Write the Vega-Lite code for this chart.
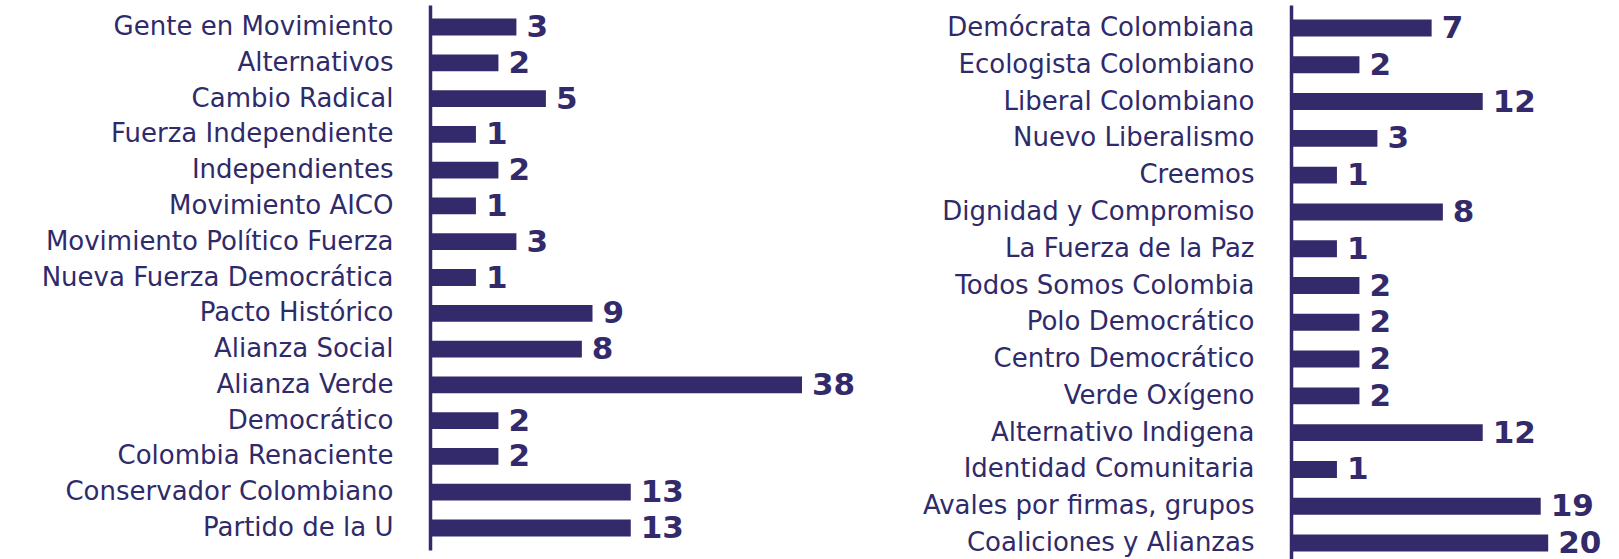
{
  "$schema": "https://vega.github.io/schema/vega-lite/v6.json",
  "background": "white",
  "padding": 5,
  "spacing": 21,
  "config": {
    "view": {"stroke": null},
    "axisY": {
      "domain": true,
      "domainColor": "#332a6b",
      "domainWidth": 3.5,
      "ticks": false,
      "tickSize": 0,
      "labelFont": "DejaVu Sans",
      "labelFontSize": 26,
      "labelColor": "#2f2a6a",
      "labelPadding": 37,
      "labelLimit": 600,
      "title": null,
      "grid": false
    }
  },
  "datasets": {
    "left": [
      {"partido": "Gente en Movimiento", "avales": 3},
      {"partido": "Alternativos", "avales": 2},
      {"partido": "Cambio Radical", "avales": 5},
      {"partido": "Fuerza Independiente", "avales": 1},
      {"partido": "Independientes", "avales": 2},
      {"partido": "Movimiento AICO", "avales": 1},
      {"partido": "Movimiento Político Fuerza", "avales": 3},
      {"partido": "Nueva Fuerza Democrática", "avales": 1},
      {"partido": "Pacto Histórico", "avales": 9},
      {"partido": "Alianza Social", "avales": 8},
      {"partido": "Alianza Verde", "avales": 38},
      {"partido": "Democrático", "avales": 2},
      {"partido": "Colombia Renaciente", "avales": 2},
      {"partido": "Conservador Colombiano", "avales": 13},
      {"partido": "Partido de la U", "avales": 13}
    ],
    "right": [
      {"partido": "Demócrata Colombiana", "avales": 7},
      {"partido": "Ecologista Colombiano", "avales": 2},
      {"partido": "Liberal Colombiano", "avales": 12},
      {"partido": "Nuevo Liberalismo", "avales": 3},
      {"partido": "Creemos", "avales": 1},
      {"partido": "Dignidad y Compromiso", "avales": 8},
      {"partido": "La Fuerza de la Paz", "avales": 1},
      {"partido": "Todos Somos Colombia", "avales": 2},
      {"partido": "Polo Democrático", "avales": 2},
      {"partido": "Centro Democrático", "avales": 2},
      {"partido": "Verde Oxígeno", "avales": 2},
      {"partido": "Alternativo Indigena", "avales": 12},
      {"partido": "Identidad Comunitaria", "avales": 1},
      {"partido": "Avales por firmas, grupos", "avales": 19},
      {"partido": "Coaliciones y Alianzas", "avales": 20}
    ]
  },
  "hconcat": [
    {
      "width": 440,
      "height": 545,
      "data": {"name": "left"},
      "encoding": {
        "y": {
          "field": "partido",
          "type": "nominal",
          "sort": null,
          "scale": {"paddingInner": 0.53, "paddingOuter": 0.38},
          "axis": {"minExtent": 425, "maxExtent": 425}
        },
        "x": {
          "field": "avales",
          "type": "quantitative",
          "scale": {"type": "pow", "exponent": 0.575, "domain": [0, 38], "range": [0, 372]},
          "axis": null
        }
      },
      "layer": [
        {"mark": {"type": "bar", "color": "#332a6b"}},
        {
          "mark": {"type": "text", "align": "left", "baseline": "middle", "dx": 10, "dy": 1, "font": "DejaVu Sans", "fontWeight": "bold", "fontSize": 31, "color": "#332a6b"},
          "encoding": {"text": {"field": "avales", "type": "quantitative"}}
        }
      ]
    },
    {
      "width": 323,
      "height": 561,
      "data": {"name": "right"},
      "encoding": {
        "y": {
          "field": "partido",
          "type": "nominal",
          "sort": null,
          "scale": {"paddingInner": 0.54, "paddingOuter": 0.395},
          "axis": {"minExtent": 400, "maxExtent": 400}
        },
        "x": {
          "field": "avales",
          "type": "quantitative",
          "scale": {"type": "pow", "exponent": 0.575, "domain": [0, 38], "range": [0, 372]},
          "axis": null
        }
      },
      "layer": [
        {"mark": {"type": "bar", "color": "#332a6b"}},
        {
          "mark": {"type": "text", "align": "left", "baseline": "middle", "dx": 10, "dy": 1, "font": "DejaVu Sans", "fontWeight": "bold", "fontSize": 31, "color": "#332a6b"},
          "encoding": {"text": {"field": "avales", "type": "quantitative"}}
        }
      ]
    }
  ]
}
